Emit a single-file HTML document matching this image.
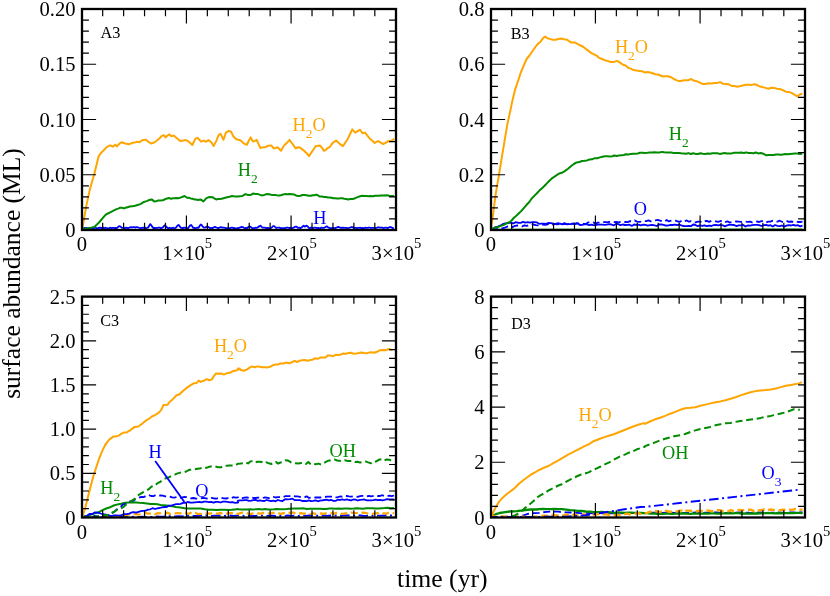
<!DOCTYPE html>
<html><head><meta charset="utf-8"><title>surface abundance</title>
<style>html,body{margin:0;padding:0;background:#fff}svg{display:block;will-change:transform}</style></head>
<body>
<svg width="830" height="596" viewBox="0 0 830 596" font-family="'Liberation Serif', serif" fill="#000">
<rect width="830" height="596" fill="#fff"/>
<clipPath id="ca"><rect x="82.00" y="9.00" width="314.00" height="221.00"/></clipPath>
<clipPath id="cb"><rect x="491.00" y="9.00" width="314.00" height="221.00"/></clipPath>
<clipPath id="cc"><rect x="82.00" y="296.60" width="314.00" height="220.90"/></clipPath>
<clipPath id="cd"><rect x="491.00" y="296.60" width="314.00" height="220.90"/></clipPath>
<g clip-path="url(#ca)">
<path d="M82.0 228.1 L83.0 228.2 L84.1 227.8 L85.1 228.3 L86.2 227.9 L87.2 228.1 L88.3 228.3 L89.3 227.9 L90.4 228.3 L91.4 228.0 L92.5 228.3 L93.5 228.3 L94.6 228.0 L95.6 227.7 L96.7 228.3 L97.7 228.2 L98.8 227.8 L99.8 227.6 L100.9 227.9 L101.9 228.0 L103.0 227.6 L104.0 228.3 L105.1 227.7 L106.1 228.1 L107.2 228.2 L108.2 228.3 L109.3 228.1 L110.3 227.7 L111.4 228.2 L112.4 227.9 L113.5 227.8 L114.5 228.1 L115.6 227.9 L116.6 228.3 L117.7 227.3 L118.7 226.4 L119.8 226.1 L120.8 226.9 L121.9 227.8 L122.9 227.9 L124.0 228.0 L125.0 228.1 L126.1 227.7 L127.1 227.8 L128.2 228.2 L129.2 227.7 L130.3 227.3 L131.3 227.1 L132.4 227.5 L133.4 227.1 L134.5 227.1 L135.5 227.6 L136.6 227.2 L137.6 227.2 L138.7 227.7 L139.8 228.0 L140.8 228.3 L141.9 227.8 L142.9 227.7 L144.0 227.9 L145.0 227.6 L146.1 228.1 L147.1 227.8 L148.2 227.4 L149.2 225.8 L150.3 224.1 L151.3 225.3 L152.4 227.0 L153.4 228.0 L154.5 227.8 L155.5 228.3 L156.6 227.8 L157.6 227.8 L158.7 227.6 L159.7 227.7 L160.8 228.1 L161.8 228.0 L162.9 227.3 L163.9 226.1 L165.0 225.3 L166.0 226.4 L167.1 227.6 L168.1 228.3 L169.2 227.7 L170.2 228.2 L171.3 228.2 L172.3 228.0 L173.4 227.7 L174.4 228.3 L175.5 228.0 L176.5 226.9 L177.6 225.5 L178.6 224.9 L179.7 226.3 L180.7 227.7 L181.8 228.0 L182.8 228.1 L183.9 227.6 L184.9 227.6 L186.0 228.2 L187.0 228.2 L188.1 228.2 L189.1 226.8 L190.2 225.4 L191.2 225.0 L192.3 226.5 L193.3 227.9 L194.4 228.0 L195.4 228.1 L196.5 227.9 L197.5 227.6 L198.6 227.8 L199.6 226.1 L200.7 224.5 L201.7 225.0 L202.8 226.7 L203.8 227.6 L204.9 227.7 L205.9 227.1 L207.0 226.5 L208.0 226.8 L209.1 227.5 L210.1 228.3 L211.2 227.8 L212.2 228.3 L213.3 227.6 L214.3 227.2 L215.4 227.0 L216.4 227.5 L217.5 227.9 L218.5 228.0 L219.6 227.6 L220.6 227.2 L221.7 227.3 L222.7 227.7 L223.8 227.7 L224.8 227.9 L225.9 228.2 L226.9 228.1 L228.0 228.1 L229.0 228.1 L230.1 228.3 L231.1 227.7 L232.2 227.6 L233.2 228.0 L234.3 228.0 L235.3 228.3 L236.4 228.3 L237.4 228.1 L238.5 228.1 L239.5 227.7 L240.6 227.3 L241.6 226.8 L242.7 227.1 L243.7 227.7 L244.8 228.2 L245.8 227.9 L246.9 228.3 L247.9 227.3 L249.0 226.7 L250.0 226.6 L251.1 227.3 L252.1 228.1 L253.2 228.1 L254.2 228.2 L255.3 227.7 L256.3 227.9 L257.4 227.7 L258.4 227.1 L259.5 226.0 L260.5 225.7 L261.6 226.8 L262.6 227.7 L263.7 227.7 L264.7 227.7 L265.8 227.8 L266.8 228.2 L267.9 227.9 L268.9 228.1 L270.0 228.3 L271.0 228.0 L272.1 227.1 L273.1 226.1 L274.2 226.2 L275.2 227.1 L276.3 228.0 L277.3 227.6 L278.4 227.6 L279.4 227.6 L280.5 228.1 L281.5 228.2 L282.6 228.2 L283.6 228.2 L284.7 228.2 L285.7 227.9 L286.8 227.6 L287.8 227.7 L288.9 228.0 L289.9 227.8 L291.0 227.7 L292.0 228.3 L293.1 227.8 L294.1 227.4 L295.2 226.7 L296.2 226.6 L297.3 227.2 L298.3 227.9 L299.4 227.7 L300.4 228.1 L301.5 227.5 L302.5 226.6 L303.6 225.7 L304.6 226.7 L305.7 226.1 L306.7 225.6 L307.8 226.7 L308.8 227.8 L309.9 228.2 L310.9 227.6 L312.0 227.7 L313.0 228.2 L314.1 227.7 L315.1 227.6 L316.2 227.8 L317.2 228.1 L318.3 227.9 L319.3 228.2 L320.4 228.3 L321.4 227.6 L322.5 227.8 L323.5 227.9 L324.6 227.6 L325.6 227.0 L326.7 226.3 L327.7 227.0 L328.8 227.7 L329.8 228.1 L330.9 228.1 L331.9 228.2 L333.0 227.9 L334.0 228.1 L335.1 228.0 L336.1 227.8 L337.2 227.3 L338.2 226.9 L339.3 227.3 L340.3 227.8 L341.4 227.6 L342.4 228.0 L343.5 227.6 L344.5 227.9 L345.6 227.9 L346.6 227.9 L347.7 228.3 L348.7 228.0 L349.8 227.7 L350.8 227.3 L351.9 227.0 L352.9 227.4 L354.0 227.9 L355.0 227.8 L356.1 227.9 L357.1 228.1 L358.2 227.9 L359.2 227.9 L360.3 227.7 L361.3 228.3 L362.4 227.9 L363.4 228.2 L364.5 228.1 L365.5 227.7 L366.6 227.9 L367.6 227.9 L368.7 227.7 L369.7 227.6 L370.8 228.0 L371.8 227.9 L372.9 227.9 L373.9 227.9 L375.0 227.8 L376.0 228.0 L377.1 227.7 L378.1 227.3 L379.2 227.3 L380.2 227.6 L381.3 227.6 L382.3 227.6 L383.4 228.1 L384.4 227.9 L385.5 227.6 L386.5 227.7 L387.6 228.2 L388.6 227.6 L389.7 227.1 L390.7 227.1 L391.8 227.6 L392.8 228.3 L393.9 227.8" fill="none" stroke="#0000ff" stroke-width="1.80" stroke-linejoin="round"/>
<path d="M82.4 229.1 L84.3 228.8 L86.1 228.6 L87.9 228.6 L89.7 228.1 L92.2 227.4 L94.6 226.7 L96.4 225.0 L98.2 223.3 L100.7 220.5 L103.1 217.7 L104.9 215.6 L106.7 214.0 L109.2 212.8 L111.6 211.6 L114.0 210.4 L116.5 209.1 L118.3 208.6 L120.1 207.7 L121.9 207.8 L123.8 208.4 L125.6 207.7 L127.4 207.2 L129.8 206.5 L132.3 206.2 L134.1 206.1 L135.9 205.5 L138.4 204.8 L140.8 203.8 L143.2 202.3 L145.7 201.4 L147.5 200.9 L149.3 199.9 L151.7 199.4 L154.2 201.4 L156.0 201.3 L157.8 200.6 L160.2 200.5 L162.7 200.2 L164.5 199.5 L166.3 198.7 L168.8 198.0 L171.2 198.7 L173.0 198.2 L174.8 198.2 L176.7 197.9 L178.5 198.2 L180.3 197.6 L182.1 197.0 L184.6 196.0 L187.0 197.7 L188.8 197.8 L190.6 198.4 L192.5 198.8 L194.3 199.4 L196.1 199.5 L197.9 199.9 L200.4 199.4 L203.5 201.4 L206.4 198.2 L208.3 197.3 L210.1 197.0 L212.5 197.2 L214.3 198.3 L216.2 199.4 L218.0 199.1 L219.8 198.9 L221.6 198.8 L223.5 198.2 L225.3 197.7 L227.1 197.2 L229.5 196.7 L232.0 196.0 L233.8 196.3 L235.6 196.5 L236.0 196.6 L238.0 196.5 L240.1 196.2 L242.1 196.1 L243.9 195.0 L245.7 194.1 L247.6 194.9 L249.4 195.1 L251.2 194.7 L253.0 193.6 L255.5 194.1 L257.9 194.1 L260.3 194.9 L262.8 195.4 L265.2 194.6 L267.6 194.1 L270.1 194.5 L272.5 195.1 L274.3 195.1 L276.1 195.1 L278.0 195.6 L279.8 195.6 L282.2 194.8 L284.7 194.1 L287.1 194.3 L289.5 194.1 L292.0 194.3 L294.4 194.6 L296.8 195.8 L298.7 195.9 L300.5 195.7 L302.3 195.0 L304.1 195.1 L306.6 195.3 L309.0 195.8 L310.8 195.8 L312.6 195.2 L314.5 195.2 L316.3 194.6 L318.1 195.5 L319.9 196.6 L322.0 196.5 L324.0 197.0 L326.0 197.1 L327.8 197.5 L329.7 197.5 L331.5 197.7 L333.3 198.3 L335.1 198.2 L337.0 198.6 L338.8 198.4 L340.6 198.3 L342.4 198.3 L344.3 198.7 L346.1 198.9 L347.9 199.5 L350.4 199.0 L352.8 199.0 L355.2 198.2 L357.7 197.1 L360.1 196.3 L362.5 195.8 L364.5 196.0 L366.6 196.1 L368.6 196.3 L370.7 196.0 L372.9 196.2 L375.0 195.7 L377.1 195.8 L378.9 195.8 L380.8 195.4 L382.6 195.4 L384.4 195.4 L386.4 195.3 L388.3 195.5 L390.3 196.1 L392.2 196.1 L394.2 196.1" fill="none" stroke="#008b00" stroke-width="2.00" stroke-linejoin="round"/>
<path d="M82.0 230.0 L83.5 222.0 L86.2 206.4 L89.6 190.6 L91.8 182.6 L94.1 174.7 L96.3 165.8 L98.6 156.6 L100.7 153.2 L102.5 151.5 L104.3 149.6 L106.7 147.1 L108.6 146.0 L110.4 145.4 L112.8 146.7 L115.3 144.7 L117.0 146.4 L119.1 144.0 L121.3 142.3 L123.2 142.8 L125.0 143.5 L126.8 143.7 L128.6 144.2 L130.5 143.7 L132.3 142.8 L134.7 142.4 L137.1 141.8 L139.6 142.3 L142.0 140.3 L143.8 140.1 L145.7 139.6 L148.1 141.6 L151.0 143.5 L154.2 142.5 L156.0 141.2 L157.8 139.8 L159.6 138.2 L161.5 136.2 L163.9 135.2 L165.6 137.4 L167.5 135.6 L169.5 134.3 L171.2 136.2 L173.6 135.5 L175.4 137.0 L177.3 138.6 L180.2 141.1 L183.3 140.6 L185.8 140.1 L187.6 140.9 L189.4 142.3 L192.3 145.0 L195.5 138.6 L197.9 138.1 L201.1 141.6 L204.0 140.6 L206.0 141.8 L208.4 140.1 L211.3 142.3 L213.7 145.9 L216.2 141.1 L218.6 135.0 L220.5 133.8 L223.5 139.8 L225.9 132.6 L228.8 130.9 L231.2 131.8 L233.2 136.2 L235.0 138.1 L236.8 139.4 L239.6 139.9 L241.5 141.1 L243.3 143.0 L245.1 144.1 L246.9 144.7 L248.8 140.8 L250.6 137.4 L253.0 141.6 L254.9 140.9 L256.7 139.9 L258.5 143.8 L260.3 147.9 L262.2 147.5 L264.0 147.2 L265.8 147.0 L267.6 145.9 L269.5 145.5 L271.3 145.5 L273.7 148.4 L275.5 148.1 L277.4 147.2 L279.2 149.0 L281.0 150.8 L282.8 147.5 L284.7 144.7 L287.1 142.7 L289.5 139.9 L291.4 142.7 L293.2 144.7 L295.6 148.4 L297.4 147.5 L299.3 147.2 L301.7 148.9 L304.1 150.8 L306.6 153.2 L309.0 156.2 L310.8 153.4 L312.6 150.8 L315.8 146.0 L317.9 145.8 L319.9 145.5 L322.0 147.9 L324.1 150.8 L325.9 149.8 L327.8 148.0 L329.7 147.2 L331.5 144.5 L333.3 142.3 L336.2 140.6 L339.4 143.5 L341.2 145.0 L343.1 146.0 L345.5 142.2 L347.9 138.7 L350.1 134.0 L352.3 129.4 L355.2 132.6 L357.7 131.2 L360.1 129.7 L362.5 133.3 L365.0 132.6 L367.4 135.6 L369.8 138.7 L372.3 140.8 L374.7 143.0 L376.5 141.7 L378.3 141.1 L380.8 142.7 L383.2 144.0 L385.6 142.9 L388.1 141.1 L389.9 141.2 L391.7 140.6 L394.2 138.7" fill="none" stroke="#ffa500" stroke-width="2.00" stroke-linejoin="round"/>
</g>
<g stroke="#000" stroke-width="1.20" fill="none"><path d="M102.68 9.00 v7.20 M102.68 230.00 v-7.20"/><path d="M123.62 9.00 v7.20 M123.62 230.00 v-7.20"/><path d="M144.55 9.00 v7.20 M144.55 230.00 v-7.20"/><path d="M165.48 9.00 v7.20 M165.48 230.00 v-7.20"/><path d="M186.42 9.00 v14.40 M186.42 230.00 v-14.40"/><path d="M207.35 9.00 v7.20 M207.35 230.00 v-7.20"/><path d="M228.28 9.00 v7.20 M228.28 230.00 v-7.20"/><path d="M249.22 9.00 v7.20 M249.22 230.00 v-7.20"/><path d="M270.15 9.00 v7.20 M270.15 230.00 v-7.20"/><path d="M291.08 9.00 v14.40 M291.08 230.00 v-14.40"/><path d="M312.02 9.00 v7.20 M312.02 230.00 v-7.20"/><path d="M332.95 9.00 v7.20 M332.95 230.00 v-7.20"/><path d="M353.88 9.00 v7.20 M353.88 230.00 v-7.20"/><path d="M374.82 9.00 v7.20 M374.82 230.00 v-7.20"/><path d="M82.00 20.05 h6.90 M396.00 20.05 h-6.90"/><path d="M82.00 31.10 h6.90 M396.00 31.10 h-6.90"/><path d="M82.00 42.15 h6.90 M396.00 42.15 h-6.90"/><path d="M82.00 53.20 h6.90 M396.00 53.20 h-6.90"/><path d="M82.00 64.25 h14.10 M396.00 64.25 h-14.10"/><path d="M82.00 75.30 h6.90 M396.00 75.30 h-6.90"/><path d="M82.00 86.35 h6.90 M396.00 86.35 h-6.90"/><path d="M82.00 97.40 h6.90 M396.00 97.40 h-6.90"/><path d="M82.00 108.45 h6.90 M396.00 108.45 h-6.90"/><path d="M82.00 119.50 h14.10 M396.00 119.50 h-14.10"/><path d="M82.00 130.55 h6.90 M396.00 130.55 h-6.90"/><path d="M82.00 141.60 h6.90 M396.00 141.60 h-6.90"/><path d="M82.00 152.65 h6.90 M396.00 152.65 h-6.90"/><path d="M82.00 163.70 h6.90 M396.00 163.70 h-6.90"/><path d="M82.00 174.75 h14.10 M396.00 174.75 h-14.10"/><path d="M82.00 185.80 h6.90 M396.00 185.80 h-6.90"/><path d="M82.00 196.85 h6.90 M396.00 196.85 h-6.90"/><path d="M82.00 207.90 h6.90 M396.00 207.90 h-6.90"/><path d="M82.00 218.95 h6.90 M396.00 218.95 h-6.90"/></g>
<rect x="82.00" y="9.00" width="314.00" height="221.00" fill="none" stroke="#000" stroke-width="2.30"/>
<text x="75.50" y="237.10" text-anchor="end" font-size="20.6">0</text>
<text x="75.50" y="181.85" text-anchor="end" font-size="20.6">0.05</text>
<text x="75.50" y="126.60" text-anchor="end" font-size="20.6">0.10</text>
<text x="75.50" y="71.35" text-anchor="end" font-size="20.6">0.15</text>
<text x="75.50" y="16.10" text-anchor="end" font-size="20.6">0.20</text>
<text x="82.00" y="251.20" text-anchor="middle" font-size="20.6">0</text>
<text x="187.17" y="259.50" text-anchor="middle" font-size="20.6">1×10<tspan font-size="14.6" dy="-11.1">5</tspan></text>
<text x="291.83" y="259.50" text-anchor="middle" font-size="20.6">2×10<tspan font-size="14.6" dy="-11.1">5</tspan></text>
<text x="396.50" y="259.50" text-anchor="middle" font-size="20.6">3×10<tspan font-size="14.6" dy="-11.1">5</tspan></text>
<text x="100.4" y="37.6" font-size="16.3">A3</text>
<text x="292.60" y="130.70" fill="#ffa500" font-size="18.3">H<tspan font-size="13.5" dy="7.4">2</tspan><tspan dy="-7.4">O</tspan></text>
<text x="237.80" y="175.50" fill="#008b00" font-size="18.3">H<tspan font-size="13.5" dy="7.4">2</tspan></text>
<text x="313.30" y="223.70" fill="#0000ff" font-size="18.3">H</text>
<g clip-path="url(#cb)">
<path d="M491.0 229.5 L802.5 229.2" fill="none" stroke="#008b00" stroke-width="1.60" stroke-linejoin="round"/>
<path d="M491.0 230.0 L493.3 229.1 L495.7 229.3 L498.0 228.6 L500.3 228.6 L502.7 228.2 L505.0 227.6 L507.5 226.5 L510.0 226.1 L512.5 227.2 L515.0 225.8 L517.5 225.5 L520.0 225.6 L522.2 226.4 L524.4 225.3 L526.7 225.9 L528.9 225.1 L531.1 225.3 L533.3 224.3 L535.6 225.1 L537.8 225.4 L540.0 224.6 L542.3 224.6 L544.6 224.9 L546.9 224.7 L549.2 223.5 L551.5 224.7 L553.8 224.3 L556.2 223.7 L558.5 223.1 L560.8 224.6 L563.1 223.8 L565.4 224.1 L567.7 224.4 L570.0 223.6 L572.3 223.9 L574.6 224.2 L576.9 223.2 L579.2 223.8 L581.5 223.1 L583.8 223.9 L586.2 223.7 L588.5 222.3 L590.8 222.3 L593.1 222.3 L595.4 223.6 L597.7 222.6 L600.0 222.6 L602.3 222.7 L604.6 222.0 L606.9 222.3 L609.2 221.9 L611.5 221.8 L613.8 222.1 L616.2 221.9 L618.5 222.4 L620.8 221.9 L623.1 222.2 L625.4 222.0 L627.7 222.1 L630.0 221.1 L632.3 221.4 L634.6 220.4 L636.9 221.6 L639.2 221.8 L641.5 221.6 L643.8 221.0 L646.2 221.2 L648.5 220.3 L650.8 221.4 L653.1 220.8 L655.4 220.3 L657.7 219.9 L660.0 220.6 L662.2 221.3 L664.4 221.6 L666.7 220.0 L668.9 221.4 L671.1 220.7 L673.3 220.3 L675.6 220.6 L677.8 221.5 L680.0 221.8 L682.2 220.3 L684.4 221.4 L686.7 220.4 L688.9 221.7 L691.1 221.1 L693.3 222.1 L695.6 222.4 L697.8 221.6 L700.0 221.6 L702.3 222.5 L704.5 221.3 L706.8 220.8 L709.1 221.8 L711.4 220.8 L713.6 221.1 L715.9 221.4 L718.2 221.8 L720.5 221.0 L722.7 220.8 L725.0 222.3 L727.3 221.3 L729.5 222.4 L731.8 222.3 L734.1 221.4 L736.4 221.5 L738.6 221.6 L740.9 221.9 L743.2 221.8 L745.5 221.7 L747.7 221.8 L750.0 221.6 L752.3 222.4 L754.6 221.6 L756.8 221.5 L759.1 222.0 L761.4 221.1 L763.7 221.2 L766.0 222.5 L768.3 221.6 L770.5 221.7 L772.8 220.7 L775.1 221.4 L777.4 221.7 L779.7 220.7 L782.0 221.8 L784.2 221.8 L786.5 220.8 L788.8 221.8 L791.1 221.5 L793.4 221.9 L795.7 221.3 L797.9 222.0 L800.2 222.0 L802.5 221.6" fill="none" stroke="#0000ff" stroke-width="1.80" stroke-linejoin="round" stroke-dasharray="7 3.7"/>
<path d="M491.0 230.0 L493.2 228.4 L495.5 227.1 L497.8 226.6 L500.0 225.7 L502.7 224.2 L505.3 223.3 L508.0 223.2 L510.7 222.7 L513.3 223.3 L516.0 222.2 L518.3 222.8 L520.7 222.8 L523.0 221.9 L525.3 222.6 L527.7 222.2 L530.0 222.7 L532.3 222.2 L534.6 222.1 L536.9 222.4 L539.2 223.8 L541.5 223.7 L543.8 223.7 L546.2 223.8 L548.5 222.8 L550.8 223.1 L553.1 223.7 L555.4 224.0 L557.7 224.3 L560.0 223.7 L562.2 224.4 L564.4 223.1 L566.7 224.1 L568.9 224.2 L571.1 224.0 L573.3 223.5 L575.6 224.0 L577.8 223.4 L580.0 225.0 L582.2 224.9 L584.4 224.4 L586.7 224.0 L588.9 225.2 L591.1 224.6 L593.3 225.2 L595.6 225.2 L597.8 224.7 L600.0 224.7 L602.3 224.6 L604.5 224.9 L606.8 224.6 L609.1 224.2 L611.4 224.5 L613.6 225.4 L615.9 224.0 L618.2 224.1 L620.5 225.1 L622.7 224.5 L625.0 225.0 L627.3 224.9 L629.5 224.7 L631.8 225.9 L634.1 224.5 L636.4 224.9 L638.6 224.6 L640.9 225.3 L643.2 224.7 L645.5 224.9 L647.7 225.6 L650.0 225.2 L652.3 224.9 L654.5 225.3 L656.8 226.0 L659.1 224.5 L661.4 224.5 L663.6 224.8 L665.9 225.7 L668.2 225.5 L670.5 224.8 L672.7 225.0 L675.0 224.7 L677.3 225.2 L679.5 224.5 L681.8 225.7 L684.1 226.0 L686.4 226.2 L688.6 225.8 L690.9 226.2 L693.2 224.5 L695.5 225.0 L697.7 226.2 L700.0 225.4 L702.3 225.9 L704.5 225.3 L706.8 226.2 L709.1 225.7 L711.4 226.0 L713.6 225.1 L715.9 224.9 L718.2 225.4 L720.5 224.9 L722.7 225.3 L725.0 226.4 L727.3 225.3 L729.5 224.7 L731.8 224.8 L734.1 225.0 L736.4 226.1 L738.6 225.4 L740.9 225.3 L743.2 224.9 L745.5 226.5 L747.7 225.5 L750.0 225.7 L752.3 225.2 L754.6 224.9 L756.8 224.9 L759.1 225.1 L761.4 226.0 L763.7 225.1 L766.0 224.9 L768.3 225.7 L770.5 225.2 L772.8 226.6 L775.1 225.0 L777.4 225.8 L779.7 226.2 L782.0 225.5 L784.2 226.6 L786.5 225.7 L788.8 225.2 L791.1 225.5 L793.4 224.9 L795.7 225.6 L797.9 225.2 L800.2 226.4 L802.5 225.7" fill="none" stroke="#0000ff" stroke-width="1.80" stroke-linejoin="round"/>
<path d="M491.1 228.7 L493.7 228.1 L496.3 227.4 L498.9 226.7 L501.5 225.6 L503.9 224.9 L506.3 223.5 L508.7 222.5 L511.1 221.0 L513.7 218.0 L516.3 215.8 L518.9 213.3 L521.4 210.9 L524.0 207.8 L526.6 204.8 L529.1 202.2 L531.7 198.5 L534.3 195.9 L536.9 193.3 L539.4 190.6 L542.0 188.2 L544.6 185.7 L547.1 183.1 L549.7 180.5 L552.3 178.1 L554.9 176.4 L557.4 174.7 L560.0 173.2 L562.6 172.5 L565.1 170.9 L568.0 168.8 L570.9 166.2 L573.8 164.0 L576.7 162.4 L579.3 162.1 L581.9 161.0 L584.4 160.8 L587.0 160.4 L589.6 159.5 L592.1 159.3 L594.7 158.2 L597.3 158.3 L599.9 157.4 L602.4 156.7 L605.0 156.3 L607.6 156.2 L609.9 156.5 L612.2 156.2 L614.5 155.5 L616.8 156.0 L619.1 155.4 L621.5 155.2 L623.8 155.0 L626.1 154.2 L628.4 154.6 L630.7 153.9 L633.0 153.8 L635.3 153.8 L637.7 153.5 L640.0 152.8 L642.3 152.7 L645.0 153.0 L647.4 152.8 L649.8 152.5 L652.2 152.4 L654.6 152.3 L657.0 152.4 L659.5 152.5 L661.9 151.9 L664.3 152.3 L666.7 152.6 L669.1 152.4 L671.5 152.5 L673.9 153.1 L676.3 153.0 L678.7 153.0 L681.1 153.3 L683.6 153.4 L686.0 153.7 L688.4 153.1 L690.8 154.0 L693.2 153.2 L695.6 153.9 L698.0 154.0 L700.4 153.3 L702.8 153.8 L705.2 154.0 L707.6 153.6 L710.1 153.7 L712.5 153.2 L714.9 153.2 L717.3 153.2 L719.7 153.9 L722.1 153.4 L724.5 153.0 L726.9 153.5 L729.3 153.5 L731.7 153.4 L734.1 152.8 L736.6 152.7 L739.0 152.8 L741.4 152.6 L743.8 152.9 L746.2 152.4 L748.6 153.0 L751.0 153.1 L753.4 153.2 L755.8 152.5 L758.2 153.4 L760.7 153.0 L763.5 153.8 L766.4 155.3 L768.8 155.0 L771.3 155.1 L773.7 155.1 L776.1 154.6 L778.4 154.4 L780.7 154.8 L783.0 154.4 L785.3 154.1 L787.6 154.2 L790.1 154.0 L792.5 153.8 L795.0 153.6 L797.4 153.6 L799.8 154.0 L802.3 153.8" fill="none" stroke="#008b00" stroke-width="2.00" stroke-linejoin="round"/>
<path d="M491.1 228.7 L493.4 211.8 L495.7 194.0 L498.6 177.1 L501.5 159.3 L504.4 141.9 L507.3 124.6 L509.9 112.6 L512.4 100.7 L515.0 89.9 L517.9 81.4 L520.8 72.5 L523.7 65.7 L526.6 59.0 L529.5 55.5 L532.4 51.3 L535.2 47.2 L538.1 43.6 L540.5 41.7 L542.8 38.6 L545.1 36.6 L547.4 38.2 L549.7 38.9 L552.6 39.7 L555.5 39.7 L558.4 39.0 L561.3 38.6 L564.2 39.2 L567.1 39.7 L570.9 42.4 L574.8 42.4 L577.7 44.2 L580.6 45.5 L583.5 47.0 L586.4 49.4 L588.9 51.1 L591.5 53.2 L594.1 54.4 L596.6 55.6 L599.2 57.9 L601.8 59.0 L604.7 60.2 L607.6 60.9 L610.5 62.0 L613.4 62.1 L617.2 60.9 L620.1 62.6 L623.0 64.8 L625.6 65.5 L628.1 67.8 L630.7 68.6 L633.6 70.1 L636.5 70.6 L639.4 70.9 L642.3 71.3 L645.0 72.5 L647.6 72.1 L650.1 72.5 L652.7 73.2 L655.3 74.2 L657.9 74.5 L660.4 75.5 L663.0 76.5 L665.6 76.2 L668.1 76.3 L671.0 77.2 L673.9 79.0 L676.8 80.4 L679.7 81.3 L682.6 80.5 L685.5 80.2 L688.4 80.2 L691.3 79.0 L694.2 80.8 L697.0 81.3 L699.9 82.7 L702.8 84.0 L705.7 83.9 L708.6 83.3 L711.5 83.4 L714.4 82.9 L717.3 82.9 L720.2 82.1 L723.1 83.8 L726.0 84.0 L728.8 84.3 L731.7 86.0 L734.6 86.1 L737.5 86.7 L740.4 86.1 L743.3 85.2 L746.2 84.7 L749.1 84.8 L751.7 84.9 L754.2 84.2 L756.8 84.8 L759.7 86.5 L762.6 87.1 L765.5 87.9 L768.4 88.7 L771.3 87.7 L774.1 87.9 L777.0 88.7 L779.9 89.0 L782.8 90.1 L785.7 91.7 L788.6 91.9 L791.5 92.9 L794.4 94.6 L797.3 96.4 L799.8 94.5 L802.3 93.7" fill="none" stroke="#ffa500" stroke-width="2.00" stroke-linejoin="round"/>
</g>
<g stroke="#000" stroke-width="1.20" fill="none"><path d="M511.68 9.00 v7.20 M511.68 230.00 v-7.20"/><path d="M532.62 9.00 v7.20 M532.62 230.00 v-7.20"/><path d="M553.55 9.00 v7.20 M553.55 230.00 v-7.20"/><path d="M574.48 9.00 v7.20 M574.48 230.00 v-7.20"/><path d="M595.42 9.00 v14.40 M595.42 230.00 v-14.40"/><path d="M616.35 9.00 v7.20 M616.35 230.00 v-7.20"/><path d="M637.28 9.00 v7.20 M637.28 230.00 v-7.20"/><path d="M658.22 9.00 v7.20 M658.22 230.00 v-7.20"/><path d="M679.15 9.00 v7.20 M679.15 230.00 v-7.20"/><path d="M700.08 9.00 v14.40 M700.08 230.00 v-14.40"/><path d="M721.02 9.00 v7.20 M721.02 230.00 v-7.20"/><path d="M741.95 9.00 v7.20 M741.95 230.00 v-7.20"/><path d="M762.88 9.00 v7.20 M762.88 230.00 v-7.20"/><path d="M783.82 9.00 v7.20 M783.82 230.00 v-7.20"/><path d="M491.00 20.05 h6.90 M805.00 20.05 h-6.90"/><path d="M491.00 31.10 h6.90 M805.00 31.10 h-6.90"/><path d="M491.00 42.15 h6.90 M805.00 42.15 h-6.90"/><path d="M491.00 53.20 h6.90 M805.00 53.20 h-6.90"/><path d="M491.00 64.25 h14.10 M805.00 64.25 h-14.10"/><path d="M491.00 75.30 h6.90 M805.00 75.30 h-6.90"/><path d="M491.00 86.35 h6.90 M805.00 86.35 h-6.90"/><path d="M491.00 97.40 h6.90 M805.00 97.40 h-6.90"/><path d="M491.00 108.45 h6.90 M805.00 108.45 h-6.90"/><path d="M491.00 119.50 h14.10 M805.00 119.50 h-14.10"/><path d="M491.00 130.55 h6.90 M805.00 130.55 h-6.90"/><path d="M491.00 141.60 h6.90 M805.00 141.60 h-6.90"/><path d="M491.00 152.65 h6.90 M805.00 152.65 h-6.90"/><path d="M491.00 163.70 h6.90 M805.00 163.70 h-6.90"/><path d="M491.00 174.75 h14.10 M805.00 174.75 h-14.10"/><path d="M491.00 185.80 h6.90 M805.00 185.80 h-6.90"/><path d="M491.00 196.85 h6.90 M805.00 196.85 h-6.90"/><path d="M491.00 207.90 h6.90 M805.00 207.90 h-6.90"/><path d="M491.00 218.95 h6.90 M805.00 218.95 h-6.90"/></g>
<rect x="491.00" y="9.00" width="314.00" height="221.00" fill="none" stroke="#000" stroke-width="2.30"/>
<text x="484.50" y="237.10" text-anchor="end" font-size="20.6">0</text>
<text x="484.50" y="181.85" text-anchor="end" font-size="20.6">0.2</text>
<text x="484.50" y="126.60" text-anchor="end" font-size="20.6">0.4</text>
<text x="484.50" y="71.35" text-anchor="end" font-size="20.6">0.6</text>
<text x="484.50" y="16.10" text-anchor="end" font-size="20.6">0.8</text>
<text x="491.00" y="251.20" text-anchor="middle" font-size="20.6">0</text>
<text x="596.17" y="259.50" text-anchor="middle" font-size="20.6">1×10<tspan font-size="14.6" dy="-11.1">5</tspan></text>
<text x="700.83" y="259.50" text-anchor="middle" font-size="20.6">2×10<tspan font-size="14.6" dy="-11.1">5</tspan></text>
<text x="805.50" y="259.50" text-anchor="middle" font-size="20.6">3×10<tspan font-size="14.6" dy="-11.1">5</tspan></text>
<text x="510.7" y="39.0" font-size="16.2">B3</text>
<text x="614.90" y="53.00" fill="#ffa500" font-size="18.3">H<tspan font-size="13.5" dy="7.4">2</tspan><tspan dy="-7.4">O</tspan></text>
<text x="668.80" y="139.75" fill="#008b00" font-size="18.3">H<tspan font-size="13.5" dy="7.4">2</tspan></text>
<text x="633.70" y="214.50" fill="#0000ff" font-size="18.3">O</text>
<g clip-path="url(#cc)">
<path d="M82.0 517.2 L85.0 517.4 L88.0 517.3 L91.0 517.3 L94.0 517.4 L97.0 517.0 L100.0 517.2 L103.0 517.3 L106.0 517.3 L109.0 517.1 L112.0 516.8 L115.0 516.9 L118.0 517.3 L121.0 516.7 L124.0 516.8 L127.0 517.2 L130.0 516.9 L133.0 516.7 L136.0 516.7 L139.0 517.1 L142.0 516.7 L145.0 516.8 L148.0 516.9 L151.0 516.9 L154.0 516.7 L157.0 516.5 L160.0 516.7 L163.1 516.7 L166.2 516.3 L169.2 516.2 L172.3 516.2 L175.4 516.4 L178.5 516.1 L181.5 516.3 L184.6 515.9 L187.7 515.8 L190.8 515.6 L193.8 516.0 L196.9 516.0 L200.0 515.7 L203.0 515.5 L206.1 515.5 L209.1 515.4 L212.1 515.8 L215.2 515.6 L218.2 515.5 L221.2 515.8 L224.2 515.8 L227.3 515.7 L230.3 515.5 L233.3 515.8 L236.4 515.7 L239.4 515.7 L242.4 515.5 L245.5 516.0 L248.5 515.9 L251.5 515.8 L254.6 516.0 L257.6 515.7 L260.6 515.6 L263.7 515.5 L266.7 515.8 L269.7 515.7 L272.8 515.7 L275.8 516.0 L278.8 515.9 L281.8 515.5 L284.9 515.9 L287.9 515.4 L290.9 515.8 L294.0 515.6 L297.0 515.8 L300.0 516.0 L303.1 515.7 L306.1 515.9 L309.1 515.4 L312.2 515.8 L315.2 515.5 L318.2 515.7 L321.2 515.6 L324.3 515.4 L327.3 515.8 L330.3 515.5 L333.4 515.6 L336.4 515.5 L339.4 515.8 L342.5 515.6 L345.5 515.4 L348.5 515.4 L351.6 515.5 L354.6 515.7 L357.6 515.4 L360.7 515.4 L363.7 515.8 L366.7 515.7 L369.8 515.5 L372.8 515.6 L375.8 515.5 L378.8 515.6 L381.9 515.6 L384.9 515.5 L387.9 515.5 L391.0 515.5 L394.0 515.7" fill="none" stroke="#0000ff" stroke-width="1.80" stroke-linejoin="round" stroke-dasharray="9.5 3.5 2 3.5"/>
<path d="M82.0 517.2 L84.5 516.6 L87.1 517.4 L89.6 517.3 L92.1 517.0 L94.7 516.5 L97.2 517.4 L99.7 517.4 L102.3 516.8 L104.8 516.8 L107.3 516.3 L109.9 515.9 L112.4 516.4 L114.9 516.7 L117.5 515.9 L120.0 516.5 L122.5 516.6 L125.0 515.2 L127.5 514.8 L130.0 514.1 L132.5 515.2 L135.0 514.0 L137.5 514.3 L140.0 514.5 L142.5 514.0 L145.0 513.0 L147.5 513.4 L150.0 513.6 L152.5 512.9 L155.0 514.2 L157.5 513.2 L160.0 513.3 L162.5 512.7 L165.0 513.8 L167.5 512.7 L170.1 514.0 L172.6 513.2 L175.1 513.4 L177.6 513.0 L180.1 513.3 L182.6 512.8 L185.2 512.6 L187.7 513.9 L190.2 512.9 L192.7 513.7 L195.2 512.8 L197.7 514.1 L200.3 513.9 L202.8 513.7 L205.3 513.7 L207.8 513.4 L210.3 513.7 L212.8 512.7 L215.4 513.3 L217.9 513.8 L220.4 512.8 L222.9 514.0 L225.4 513.9 L227.9 513.2 L230.5 513.1 L233.0 513.2 L235.5 513.1 L238.0 514.1 L240.5 513.1 L243.0 512.5 L245.5 512.6 L248.1 513.6 L250.6 514.1 L253.1 513.3 L255.6 513.3 L258.1 513.4 L260.6 513.7 L263.2 512.9 L265.7 513.5 L268.2 513.4 L270.7 513.5 L273.2 512.8 L275.7 512.8 L278.3 513.1 L280.8 514.0 L283.3 513.1 L285.8 513.5 L288.3 513.0 L290.8 512.7 L293.4 512.6 L295.9 513.8 L298.4 513.7 L300.9 513.1 L303.4 513.6 L305.9 513.6 L308.5 513.9 L311.0 514.0 L313.5 513.2 L316.0 514.1 L318.5 514.0 L321.0 513.4 L323.5 513.9 L326.1 513.3 L328.6 513.1 L331.1 512.9 L333.6 513.9 L336.1 512.8 L338.6 512.6 L341.2 513.8 L343.7 513.7 L346.2 513.3 L348.7 513.8 L351.2 512.6 L353.7 512.9 L356.3 513.0 L358.8 513.2 L361.3 512.8 L363.8 512.6 L366.3 513.0 L368.8 513.9 L371.4 514.1 L373.9 513.7 L376.4 513.3 L378.9 512.9 L381.4 514.0 L383.9 513.3 L386.5 513.7 L389.0 512.5 L391.5 512.8 L394.0 513.3" fill="none" stroke="#ffa500" stroke-width="2.20" stroke-linejoin="round" stroke-dasharray="7 3.7"/>
<path d="M82.3 517.2 L86.7 516.2 L91.1 514.5 L94.9 513.2 L98.6 512.3 L102.4 510.1 L106.2 508.5 L110.0 507.3 L113.7 505.5 L117.5 504.4 L121.3 503.7 L125.1 502.8 L128.8 502.5 L133.4 502.2 L136.4 502.5 L139.4 502.8 L143.2 503.0 L146.9 503.5 L150.7 504.0 L154.5 504.0 L157.5 504.2 L160.5 505.0 L163.5 505.2 L166.6 505.4 L169.6 505.9 L172.6 506.2 L175.6 507.0 L178.6 507.3 L181.7 507.7 L184.7 508.2 L187.7 508.4 L190.7 508.5 L196.0 508.5 L200.5 508.6 L204.9 509.3 L208.8 509.7 L212.7 509.7 L216.6 509.9 L220.5 509.8 L224.4 509.7 L228.4 509.9 L231.6 509.8 L234.9 509.4 L238.1 509.1 L238.0 509.3 L241.0 509.6 L244.0 509.5 L247.0 509.6 L250.0 509.3 L253.0 509.4 L256.0 509.3 L259.0 509.1 L262.0 509.5 L265.0 509.1 L268.0 509.4 L271.0 509.5 L274.0 509.3 L277.0 509.0 L280.0 509.2 L283.3 509.3 L286.7 509.1 L290.0 508.7 L293.3 508.5 L296.7 508.6 L300.0 508.5 L303.3 508.3 L306.7 508.9 L310.0 508.7 L313.3 508.7 L316.7 508.7 L320.0 508.8 L323.1 508.9 L326.2 509.0 L329.2 508.6 L332.3 508.6 L335.4 508.7 L338.5 508.5 L341.5 508.7 L344.6 508.6 L347.7 508.6 L350.8 508.7 L353.8 508.6 L356.9 508.3 L360.0 508.5 L363.1 508.8 L366.2 508.3 L369.3 508.3 L372.4 508.3 L375.5 508.5 L378.5 508.5 L381.6 508.2 L384.7 508.1 L387.8 507.8 L390.9 508.3 L394.0 508.0" fill="none" stroke="#008b00" stroke-width="2.00" stroke-linejoin="round"/>
<path d="M82.3 516.9 L84.8 516.5 L87.3 515.5 L89.8 513.8 L92.4 514.0 L95.0 512.3 L97.6 512.6 L100.5 513.5 L103.4 514.2 L106.0 514.7 L108.6 515.5 L111.2 516.1 L113.8 515.4 L116.4 515.4 L119.0 515.7 L121.6 515.1 L124.2 514.2 L126.8 514.2 L129.2 513.6 L131.5 512.5 L133.9 512.1 L136.2 512.6 L138.6 511.8 L140.9 511.2 L143.2 510.8 L145.6 510.7 L147.9 509.6 L150.3 509.3 L152.6 508.2 L155.0 509.0 L157.3 508.3 L159.6 508.0 L162.0 507.3 L164.3 507.0 L166.7 507.1 L169.0 505.6 L171.4 505.7 L173.7 504.8 L176.0 504.2 L178.4 504.1 L180.7 503.9 L183.1 502.9 L185.4 502.9 L187.7 502.0 L190.1 502.5 L192.4 502.7 L194.8 502.4 L197.1 502.1 L199.5 502.0 L201.8 502.3 L204.1 501.6 L206.5 501.6 L208.8 502.1 L211.2 501.9 L213.5 502.7 L215.9 501.8 L218.2 501.8 L220.5 502.5 L222.9 501.7 L225.2 501.6 L227.6 501.9 L229.9 502.3 L232.3 502.1 L235.2 502.8 L238.1 502.5 L238.0 500.6 L240.2 500.3 L242.4 500.4 L244.6 500.2 L246.8 500.2 L249.0 500.9 L251.2 500.6 L253.4 500.1 L255.6 499.8 L257.8 500.9 L260.0 500.4 L262.2 500.8 L264.4 501.0 L266.7 500.0 L268.9 500.6 L271.1 501.2 L273.3 500.7 L275.6 501.3 L277.8 500.0 L280.0 500.6 L282.5 501.0 L285.0 499.2 L287.5 499.4 L290.0 499.2 L292.5 498.7 L295.0 500.2 L297.5 500.2 L300.0 500.2 L302.2 501.0 L304.4 500.8 L306.7 501.1 L308.9 500.4 L311.1 501.2 L313.3 500.9 L315.6 500.3 L317.8 501.3 L320.0 500.6 L322.2 500.3 L324.4 500.0 L326.7 499.7 L328.9 500.3 L331.1 499.8 L333.3 500.9 L335.6 500.9 L337.8 499.6 L340.0 500.0 L342.2 499.3 L344.4 500.0 L346.7 499.4 L348.9 500.0 L351.1 500.4 L353.3 499.5 L355.6 499.7 L357.8 500.5 L360.0 499.8 L362.2 499.7 L364.4 499.5 L366.7 500.4 L368.9 500.3 L371.1 500.4 L373.3 500.1 L375.6 499.7 L377.8 500.1 L380.0 499.8 L382.3 500.3 L384.7 499.9 L387.0 499.2 L389.3 499.3 L391.7 499.4 L394.0 499.5" fill="none" stroke="#0000ff" stroke-width="1.80" stroke-linejoin="round"/>
<path d="M82.3 516.9 L84.8 517.1 L87.3 517.2 L89.7 516.1 L92.2 517.3 L94.6 515.9 L97.1 516.5 L99.5 516.1 L102.0 515.2 L104.4 516.1 L106.8 514.8 L109.3 515.2 L111.6 513.7 L113.8 511.9 L116.1 510.2 L118.4 507.9 L120.7 506.8 L122.9 504.4 L125.2 504.2 L127.5 501.8 L129.8 501.5 L132.1 501.2 L134.3 499.9 L136.6 498.6 L139.0 497.7 L141.5 496.8 L143.9 497.1 L146.4 495.6 L148.7 495.0 L151.1 496.0 L153.4 496.2 L155.7 495.1 L158.1 495.6 L160.4 495.5 L162.8 495.7 L165.1 496.3 L167.4 496.2 L169.8 496.6 L172.1 497.4 L174.5 497.7 L176.8 496.9 L179.2 498.0 L181.5 497.6 L183.8 497.0 L186.2 497.1 L188.5 498.1 L190.9 498.4 L193.2 498.0 L195.6 498.5 L197.9 498.8 L200.2 498.7 L202.6 497.8 L204.9 498.2 L207.3 498.6 L209.6 499.0 L212.0 497.8 L214.3 498.5 L216.6 498.6 L219.0 497.9 L221.3 497.8 L223.7 498.3 L226.0 498.5 L228.4 498.2 L230.8 498.7 L233.2 497.2 L235.7 497.6 L238.1 497.4 L238.0 497.6 L240.2 498.4 L242.4 498.1 L244.6 497.7 L246.8 497.3 L249.0 497.9 L251.2 497.3 L253.4 498.0 L255.6 498.0 L257.8 497.6 L260.0 497.8 L262.2 498.2 L264.4 497.5 L266.7 497.6 L268.9 498.1 L271.1 497.1 L273.3 496.9 L275.6 497.5 L277.8 497.2 L280.0 497.2 L282.5 497.5 L285.0 496.2 L287.5 496.1 L290.0 496.0 L292.5 495.5 L295.0 496.3 L297.5 496.3 L300.0 496.8 L302.2 496.8 L304.4 497.4 L306.7 496.3 L308.9 497.9 L311.1 497.5 L313.3 497.8 L315.6 497.4 L317.8 497.5 L320.0 497.5 L322.2 497.2 L324.4 497.1 L326.7 496.7 L328.9 496.7 L331.1 496.6 L333.3 496.6 L335.6 497.4 L337.8 497.1 L340.0 496.5 L342.2 496.7 L344.4 495.7 L346.7 496.0 L348.9 496.4 L351.1 496.6 L353.3 496.2 L355.6 496.5 L357.8 496.9 L360.0 496.2 L362.2 495.8 L364.4 496.0 L366.7 496.5 L368.9 495.8 L371.1 496.4 L373.3 495.9 L375.6 495.3 L377.8 496.0 L380.0 496.0 L382.3 495.2 L384.7 496.3 L387.0 496.3 L389.3 495.7 L391.7 496.2 L394.0 495.5" fill="none" stroke="#0000ff" stroke-width="1.80" stroke-linejoin="round" stroke-dasharray="7 3.7"/>
<path d="M82.3 516.9 L84.6 516.6 L86.8 517.5 L89.0 517.3 L91.2 516.1 L93.4 517.3 L95.6 516.5 L98.0 516.5 L100.3 515.1 L102.6 516.5 L105.0 515.0 L107.3 515.2 L109.7 513.6 L112.0 512.7 L114.4 511.8 L116.7 509.8 L119.0 509.3 L121.4 508.1 L123.7 506.8 L126.1 504.6 L128.4 503.6 L130.8 501.5 L133.1 499.9 L135.4 498.4 L137.7 495.5 L140.0 494.2 L142.9 492.3 L145.8 490.8 L148.7 489.2 L151.6 486.5 L154.5 486.2 L157.3 483.4 L160.2 481.9 L163.1 479.3 L166.0 478.3 L168.9 477.3 L171.8 475.7 L174.7 474.7 L177.6 473.4 L180.5 472.6 L183.4 472.5 L186.3 471.5 L189.2 469.8 L192.0 469.6 L194.9 469.3 L197.8 468.7 L200.7 468.2 L203.6 467.0 L206.5 467.9 L209.4 466.7 L212.3 466.1 L215.2 466.4 L218.1 467.2 L221.0 467.3 L223.9 465.7 L226.7 465.7 L229.6 465.5 L232.5 465.6 L235.4 465.3 L238.0 463.7 L240.6 463.6 L243.1 463.3 L245.7 462.5 L248.0 463.4 L250.3 461.5 L252.7 461.1 L255.0 462.6 L257.3 461.7 L259.6 461.7 L261.9 462.1 L264.2 463.4 L266.5 462.3 L268.9 463.3 L271.2 464.0 L273.5 463.0 L275.8 461.9 L278.1 463.6 L280.4 462.5 L283.0 462.0 L285.6 460.3 L288.1 460.6 L290.7 462.2 L293.3 463.0 L295.9 463.3 L298.4 463.6 L301.0 463.1 L303.6 462.5 L306.0 463.9 L308.4 462.0 L310.8 464.4 L313.2 463.7 L315.8 464.2 L318.4 463.6 L320.9 464.4 L323.8 463.1 L326.7 461.4 L329.3 460.4 L331.9 460.4 L334.4 459.4 L337.0 460.5 L339.6 460.8 L342.1 461.4 L344.7 460.3 L347.3 460.9 L349.9 461.0 L352.4 460.8 L355.0 462.0 L357.6 461.7 L360.1 462.6 L362.7 462.1 L365.3 461.4 L368.2 462.4 L371.1 463.3 L373.6 461.4 L376.2 461.4 L378.8 459.8 L381.4 459.2 L383.9 460.7 L386.5 459.4 L389.4 459.7 L392.3 461.4" fill="none" stroke="#008b00" stroke-width="2.00" stroke-linejoin="round" stroke-dasharray="7 3.7"/>
<path d="M82.3 517.2 L83.5 513.3 L85.1 508.5 L87.3 499.4 L89.6 490.4 L91.8 482.1 L94.1 473.8 L96.4 466.7 L98.6 460.2 L100.9 454.2 L103.2 448.9 L104.7 446.0 L106.2 443.6 L105.2 444.6 L109.2 439.6 L113.2 436.6 L116.2 436.4 L119.2 435.4 L121.2 433.8 L123.8 432.6 L126.3 432.6 L130.3 430.1 L134.3 427.1 L138.4 426.5 L142.4 423.5 L145.4 420.9 L149.4 418.5 L151.9 416.4 L154.4 415.5 L157.0 413.9 L159.5 412.0 L161.5 409.4 L163.5 405.0 L167.5 404.8 L169.5 402.0 L172.6 399.4 L176.6 395.3 L179.6 394.3 L182.6 391.3 L186.6 387.9 L190.7 385.1 L193.7 383.3 L196.7 382.9 L198.7 380.6 L200.7 381.9 L203.7 380.8 L206.8 379.2 L208.8 380.2 L211.8 379.6 L213.8 376.2 L215.8 373.6 L218.8 373.8 L221.3 373.4 L223.9 374.6 L226.9 373.2 L229.9 372.8 L232.9 371.2 L236.9 370.2 L240.0 368.8 L238.0 368.4 L240.9 370.0 L243.8 370.7 L246.7 369.6 L249.6 367.6 L252.1 366.4 L254.7 367.2 L257.3 366.4 L259.9 366.7 L262.4 367.2 L265.0 367.2 L267.6 367.4 L270.1 366.8 L272.7 365.3 L275.3 364.5 L277.9 364.6 L280.4 363.4 L283.3 363.5 L286.2 362.6 L289.1 363.2 L292.0 362.2 L294.6 360.8 L297.1 362.0 L299.7 360.7 L302.3 360.2 L304.9 360.0 L307.4 360.7 L310.0 360.1 L312.6 359.7 L315.1 358.3 L317.7 358.9 L320.3 357.6 L322.9 357.6 L325.4 357.5 L328.0 355.4 L330.6 355.6 L333.1 356.2 L335.7 354.8 L338.3 354.9 L340.9 354.6 L343.4 353.4 L346.0 353.7 L348.6 352.9 L351.1 352.8 L353.7 353.7 L356.3 353.5 L358.9 353.1 L361.4 352.6 L364.0 353.1 L366.6 353.2 L369.1 352.6 L371.7 352.2 L374.3 352.7 L376.9 351.8 L379.7 350.3 L382.6 349.9 L385.5 350.2 L388.4 349.1 L392.3 349.9" fill="none" stroke="#ffa500" stroke-width="2.00" stroke-linejoin="round"/>
</g>
<path d="M155.2 461.1 L184.4 502.1" stroke="#0000ff" stroke-width="1.8"/>
<g stroke="#000" stroke-width="1.20" fill="none"><path d="M102.68 296.60 v7.20 M102.68 517.50 v-7.20"/><path d="M123.62 296.60 v7.20 M123.62 517.50 v-7.20"/><path d="M144.55 296.60 v7.20 M144.55 517.50 v-7.20"/><path d="M165.48 296.60 v7.20 M165.48 517.50 v-7.20"/><path d="M186.42 296.60 v14.40 M186.42 517.50 v-14.40"/><path d="M207.35 296.60 v7.20 M207.35 517.50 v-7.20"/><path d="M228.28 296.60 v7.20 M228.28 517.50 v-7.20"/><path d="M249.22 296.60 v7.20 M249.22 517.50 v-7.20"/><path d="M270.15 296.60 v7.20 M270.15 517.50 v-7.20"/><path d="M291.08 296.60 v14.40 M291.08 517.50 v-14.40"/><path d="M312.02 296.60 v7.20 M312.02 517.50 v-7.20"/><path d="M332.95 296.60 v7.20 M332.95 517.50 v-7.20"/><path d="M353.88 296.60 v7.20 M353.88 517.50 v-7.20"/><path d="M374.82 296.60 v7.20 M374.82 517.50 v-7.20"/><path d="M82.00 305.44 h6.90 M396.00 305.44 h-6.90"/><path d="M82.00 314.27 h6.90 M396.00 314.27 h-6.90"/><path d="M82.00 323.11 h6.90 M396.00 323.11 h-6.90"/><path d="M82.00 331.94 h6.90 M396.00 331.94 h-6.90"/><path d="M82.00 340.78 h14.10 M396.00 340.78 h-14.10"/><path d="M82.00 349.62 h6.90 M396.00 349.62 h-6.90"/><path d="M82.00 358.45 h6.90 M396.00 358.45 h-6.90"/><path d="M82.00 367.29 h6.90 M396.00 367.29 h-6.90"/><path d="M82.00 376.12 h6.90 M396.00 376.12 h-6.90"/><path d="M82.00 384.96 h14.10 M396.00 384.96 h-14.10"/><path d="M82.00 393.80 h6.90 M396.00 393.80 h-6.90"/><path d="M82.00 402.63 h6.90 M396.00 402.63 h-6.90"/><path d="M82.00 411.47 h6.90 M396.00 411.47 h-6.90"/><path d="M82.00 420.30 h6.90 M396.00 420.30 h-6.90"/><path d="M82.00 429.14 h14.10 M396.00 429.14 h-14.10"/><path d="M82.00 437.98 h6.90 M396.00 437.98 h-6.90"/><path d="M82.00 446.81 h6.90 M396.00 446.81 h-6.90"/><path d="M82.00 455.65 h6.90 M396.00 455.65 h-6.90"/><path d="M82.00 464.48 h6.90 M396.00 464.48 h-6.90"/><path d="M82.00 473.32 h14.10 M396.00 473.32 h-14.10"/><path d="M82.00 482.16 h6.90 M396.00 482.16 h-6.90"/><path d="M82.00 490.99 h6.90 M396.00 490.99 h-6.90"/><path d="M82.00 499.83 h6.90 M396.00 499.83 h-6.90"/><path d="M82.00 508.66 h6.90 M396.00 508.66 h-6.90"/></g>
<rect x="82.00" y="296.60" width="314.00" height="220.90" fill="none" stroke="#000" stroke-width="2.30"/>
<text x="75.50" y="524.60" text-anchor="end" font-size="20.6">0</text>
<text x="75.50" y="480.42" text-anchor="end" font-size="20.6">0.5</text>
<text x="75.50" y="436.24" text-anchor="end" font-size="20.6">1.0</text>
<text x="75.50" y="392.06" text-anchor="end" font-size="20.6">1.5</text>
<text x="75.50" y="347.88" text-anchor="end" font-size="20.6">2.0</text>
<text x="75.50" y="303.70" text-anchor="end" font-size="20.6">2.5</text>
<text x="82.00" y="538.70" text-anchor="middle" font-size="20.6">0</text>
<text x="187.17" y="547.00" text-anchor="middle" font-size="20.6">1×10<tspan font-size="14.6" dy="-11.1">5</tspan></text>
<text x="291.83" y="547.00" text-anchor="middle" font-size="20.6">2×10<tspan font-size="14.6" dy="-11.1">5</tspan></text>
<text x="396.50" y="547.00" text-anchor="middle" font-size="20.6">3×10<tspan font-size="14.6" dy="-11.1">5</tspan></text>
<text x="100.3" y="326.0" font-size="16.2">C3</text>
<text x="213.90" y="351.60" fill="#ffa500" font-size="18.3">H<tspan font-size="13.5" dy="7.4">2</tspan><tspan dy="-7.4">O</tspan></text>
<text x="148.40" y="458.00" fill="#0000ff" font-size="18.3">H</text>
<text x="100.20" y="493.80" fill="#008b00" font-size="18.3">H<tspan font-size="13.5" dy="7.4">2</tspan></text>
<text x="195.30" y="496.50" fill="#0000ff" font-size="18.3">O</text>
<text x="329.50" y="456.60" fill="#008b00" font-size="18.3">OH</text>
<g clip-path="url(#cd)">
<path d="M490.3 517.1 L493.7 517.1 L497.1 516.9 L500.4 516.6 L503.8 516.9 L507.2 516.6 L510.5 516.6 L513.9 516.6 L517.3 516.6 L520.7 515.8 L524.1 515.2 L527.5 514.0 L530.9 513.2 L534.8 513.2 L538.8 512.9 L542.7 512.3 L546.6 511.9 L550.5 511.6 L554.4 511.7 L558.3 511.7 L562.2 512.3 L566.1 512.3 L570.0 512.5 L573.9 512.9 L577.8 512.8 L581.7 513.3 L585.6 513.2 L589.5 513.2 L592.6 513.3 L595.7 513.0 L598.9 512.9 L602.0 513.4 L605.1 513.2 L608.4 513.3 L611.6 513.4 L614.9 513.3 L618.1 513.3 L621.4 513.3 L624.6 513.2 L627.9 513.4 L631.1 512.9 L634.4 513.0 L637.7 512.9 L640.9 513.1 L644.2 512.8 L647.2 513.1 L650.2 512.7 L653.3 512.6 L656.3 512.7 L659.4 512.7 L662.4 513.0 L665.5 512.7 L668.5 512.9 L671.6 512.7 L674.6 512.8 L677.7 512.6 L680.7 512.8 L683.7 512.8 L686.8 513.0 L689.8 513.0 L692.9 512.7 L695.9 512.5 L699.0 513.0 L702.0 513.0 L705.1 512.7 L708.1 512.7 L711.1 513.0 L714.2 512.5 L717.2 512.5 L720.3 512.8 L723.3 512.8 L726.4 512.8 L729.4 512.9 L732.5 512.7 L735.5 512.6 L738.6 512.5 L741.6 512.5 L744.6 512.5 L747.7 512.6 L750.7 512.8 L753.8 512.7 L756.8 512.6 L759.9 512.5 L762.9 512.7 L766.0 512.5 L769.0 512.8 L772.0 512.7 L775.1 512.7 L778.1 512.5 L781.2 512.6 L784.2 512.7 L787.3 512.8 L790.3 512.5 L793.4 512.4 L796.4 512.6 L799.5 512.3 L802.5 512.5" fill="none" stroke="#0000ff" stroke-width="1.80" stroke-linejoin="round" stroke-dasharray="7 3.7"/>
<path d="M490.3 517.1 L495.8 514.2 L499.7 513.0 L503.6 512.3 L506.9 511.8 L510.1 511.5 L513.4 511.3 L516.8 511.1 L520.2 510.6 L523.6 510.4 L527.0 509.9 L530.2 509.5 L533.3 509.5 L536.4 509.5 L539.5 509.1 L542.7 508.9 L546.6 509.2 L550.5 509.1 L554.4 508.9 L558.3 509.1 L562.2 509.2 L566.1 509.7 L570.0 510.2 L573.9 510.3 L577.8 510.9 L581.7 510.9 L585.6 511.5 L589.5 511.7 L592.6 512.0 L595.7 512.1 L598.9 512.2 L602.0 512.0 L605.1 512.3 L608.4 512.1 L611.6 512.3 L614.9 512.8 L618.1 512.5 L621.4 512.6 L624.6 512.8 L627.9 512.7 L631.1 512.7 L634.4 512.8 L637.7 513.0 L640.9 513.0 L644.2 513.2 L647.3 513.2 L650.5 513.6 L653.7 513.3 L656.8 513.8 L660.0 513.7 L663.0 513.8 L666.0 513.7 L669.0 513.7 L672.0 513.8 L675.0 513.7 L678.0 513.5 L681.0 513.5 L684.0 513.5 L687.0 513.6 L690.0 513.8 L693.0 513.6 L696.0 513.4 L699.0 513.6 L702.0 513.7 L705.0 513.5 L708.0 513.6 L711.0 513.3 L714.0 513.3 L717.0 513.6 L720.0 513.5 L723.1 513.3 L726.1 513.4 L729.2 513.4 L732.2 513.3 L735.3 513.2 L738.3 513.1 L741.4 513.6 L744.4 513.4 L747.5 513.6 L750.6 513.3 L753.6 513.5 L756.7 513.5 L759.7 513.3 L762.8 513.3 L765.8 513.2 L768.9 513.1 L771.9 513.1 L775.0 513.3 L778.1 513.0 L781.1 513.3 L784.2 513.1 L787.2 513.1 L790.3 513.2 L793.3 513.1 L796.4 512.9 L799.4 512.9 L802.5 513.0" fill="none" stroke="#008b00" stroke-width="2.30" stroke-linejoin="round"/>
<path d="M490.3 517.1 L492.6 516.3 L494.8 516.5 L497.0 516.9 L499.2 517.4 L501.4 516.5 L503.6 516.4 L505.8 516.6 L508.0 517.4 L510.3 516.4 L512.5 517.3 L514.7 517.2 L516.9 516.3 L519.1 517.0 L521.3 516.8 L523.5 516.7 L525.7 517.6 L528.0 516.2 L530.2 516.0 L532.4 517.5 L534.6 516.6 L536.8 516.7 L539.2 516.0 L541.7 515.9 L544.1 515.7 L546.6 515.6 L548.9 516.3 L551.2 515.0 L553.4 515.0 L555.7 515.5 L558.0 515.4 L560.3 516.0 L562.6 515.8 L564.9 515.0 L567.2 514.7 L569.5 515.7 L571.8 515.9 L574.1 514.3 L576.4 515.4 L578.7 515.5 L581.0 515.1 L583.3 514.4 L585.6 514.8 L587.9 515.2 L590.2 515.1 L592.5 514.2 L594.8 514.9 L597.1 514.2 L599.4 513.9 L601.7 514.3 L604.0 514.3 L606.3 514.3 L608.6 514.7 L610.9 515.0 L613.2 515.1 L615.5 515.1 L617.7 515.1 L620.0 514.7 L622.3 513.9 L624.6 514.2 L627.1 513.6 L629.5 514.3 L632.0 514.1 L634.4 514.2 L636.8 513.2 L639.3 513.3 L641.7 514.4 L644.2 513.6 L647.1 512.8 L650.0 511.6 L652.3 511.9 L654.5 510.9 L656.8 511.4 L659.1 512.1 L661.4 511.7 L663.6 512.2 L665.9 510.9 L668.2 511.3 L670.5 511.8 L672.7 511.2 L675.0 511.8 L677.3 511.4 L679.5 510.6 L681.8 510.6 L684.1 512.0 L686.4 510.6 L688.6 510.6 L690.9 510.8 L693.2 511.4 L695.5 511.6 L697.7 511.0 L700.0 511.0 L702.2 511.0 L704.4 511.4 L706.7 510.6 L708.9 510.7 L711.1 511.1 L713.3 511.1 L715.6 510.1 L717.8 510.2 L720.0 510.2 L722.2 511.1 L724.4 511.0 L726.7 511.4 L728.9 511.1 L731.1 510.2 L733.3 511.0 L735.6 511.4 L737.8 510.3 L740.0 509.8 L742.2 510.3 L744.4 510.1 L746.7 509.9 L748.9 509.7 L751.1 509.8 L753.3 511.0 L755.6 509.6 L757.8 510.5 L760.0 510.3 L762.2 509.8 L764.5 509.7 L766.7 510.7 L768.9 509.8 L771.2 509.5 L773.4 509.9 L775.7 510.2 L777.9 509.9 L780.1 510.4 L782.4 509.6 L784.6 509.8 L786.8 510.0 L789.1 509.6 L791.3 509.9 L793.6 509.5 L795.8 508.9 L798.0 508.8 L800.3 509.8 L802.5 509.3" fill="none" stroke="#ffa500" stroke-width="2.40" stroke-linejoin="round" stroke-dasharray="7 3.7"/>
<path d="M490.3 517.1 L566.1 516.7 L585.6 515.2 L605.1 512.3 L624.6 509.3 L640.3 507.0 L645.0 506.9 L800.1 489.6" fill="none" stroke="#0000ff" stroke-width="1.90" stroke-linejoin="round" stroke-dasharray="9.5 3.5 2 3.5" stroke-dashoffset="2.1"/>
<path d="M490.8 518.7 L494.3 518.6 L497.7 518.5 L501.2 518.5 L504.7 517.9 L508.1 517.9 L511.5 516.6 L514.8 515.4 L518.2 513.7 L521.5 511.3 L524.9 508.1 L528.2 505.6 L531.6 502.7 L534.9 499.7 L538.3 496.6 L541.7 494.6 L545.0 492.9 L548.4 490.5 L551.7 488.9 L555.1 487.1 L558.4 485.5 L561.8 484.2 L565.1 482.3 L568.5 480.5 L571.5 478.8 L574.5 477.5 L577.5 476.0 L580.6 474.8 L584.6 473.6 L588.6 472.4 L592.6 470.1 L596.7 468.4 L600.7 466.5 L604.7 464.4 L608.7 462.6 L612.7 460.4 L616.8 458.1 L620.8 455.9 L624.8 454.6 L628.8 452.7 L632.9 451.3 L636.9 449.3 L640.9 448.0 L644.9 446.7 L645.0 446.1 L650.0 444.4 L655.1 442.4 L660.1 440.4 L665.1 438.8 L670.2 437.4 L675.2 436.0 L680.2 435.2 L685.2 434.0 L690.3 432.0 L695.3 430.4 L700.3 429.0 L705.4 427.9 L710.4 426.9 L715.4 425.3 L720.5 424.3 L725.5 423.3 L730.5 422.9 L735.5 421.9 L740.6 420.9 L745.6 420.3 L750.6 419.5 L755.7 418.9 L760.7 417.9 L765.7 416.7 L770.8 415.9 L775.8 414.7 L780.8 413.5 L785.8 412.3 L789.9 410.8 L793.9 409.2 L796.9 409.7 L799.9 409.8" fill="none" stroke="#008b00" stroke-width="2.00" stroke-linejoin="round" stroke-dasharray="7 3.7"/>
<path d="M490.8 518.7 L492.0 515.1 L494.0 510.7 L496.0 506.6 L499.1 501.6 L502.1 498.2 L505.1 495.6 L508.1 493.0 L511.1 490.9 L514.2 488.5 L519.2 483.5 L524.2 479.5 L527.7 477.0 L531.3 474.4 L534.8 472.5 L538.3 470.4 L543.3 468.0 L548.4 466.0 L553.4 463.2 L558.4 460.4 L563.5 457.3 L568.5 454.3 L573.5 451.9 L578.5 449.3 L583.6 446.7 L588.6 444.3 L593.6 441.2 L598.7 439.2 L603.7 437.4 L608.7 435.8 L613.8 434.2 L618.8 432.2 L623.8 430.2 L628.8 428.2 L633.9 426.2 L638.9 424.5 L643.9 423.1 L645.0 423.9 L650.0 421.5 L655.1 419.3 L660.1 417.7 L665.1 415.9 L670.2 413.7 L675.2 411.9 L680.2 409.8 L685.2 408.2 L690.3 407.8 L695.3 407.2 L700.3 405.8 L705.4 404.6 L710.4 403.4 L715.4 402.2 L720.5 401.4 L725.5 400.2 L730.5 398.8 L735.5 397.2 L740.6 395.4 L745.6 393.7 L750.6 392.3 L755.7 391.1 L760.7 390.5 L765.7 390.1 L770.8 389.5 L775.8 388.5 L780.8 387.1 L785.8 385.7 L790.9 384.9 L795.9 384.1 L798.9 383.4 L801.9 382.1" fill="none" stroke="#ffa500" stroke-width="2.00" stroke-linejoin="round"/>
</g>
<g stroke="#000" stroke-width="1.20" fill="none"><path d="M511.68 296.60 v7.20 M511.68 517.50 v-7.20"/><path d="M532.62 296.60 v7.20 M532.62 517.50 v-7.20"/><path d="M553.55 296.60 v7.20 M553.55 517.50 v-7.20"/><path d="M574.48 296.60 v7.20 M574.48 517.50 v-7.20"/><path d="M595.42 296.60 v14.40 M595.42 517.50 v-14.40"/><path d="M616.35 296.60 v7.20 M616.35 517.50 v-7.20"/><path d="M637.28 296.60 v7.20 M637.28 517.50 v-7.20"/><path d="M658.22 296.60 v7.20 M658.22 517.50 v-7.20"/><path d="M679.15 296.60 v7.20 M679.15 517.50 v-7.20"/><path d="M700.08 296.60 v14.40 M700.08 517.50 v-14.40"/><path d="M721.02 296.60 v7.20 M721.02 517.50 v-7.20"/><path d="M741.95 296.60 v7.20 M741.95 517.50 v-7.20"/><path d="M762.88 296.60 v7.20 M762.88 517.50 v-7.20"/><path d="M783.82 296.60 v7.20 M783.82 517.50 v-7.20"/><path d="M491.00 307.65 h6.90 M805.00 307.65 h-6.90"/><path d="M491.00 318.69 h6.90 M805.00 318.69 h-6.90"/><path d="M491.00 329.74 h6.90 M805.00 329.74 h-6.90"/><path d="M491.00 340.78 h6.90 M805.00 340.78 h-6.90"/><path d="M491.00 351.83 h14.10 M805.00 351.83 h-14.10"/><path d="M491.00 362.87 h6.90 M805.00 362.87 h-6.90"/><path d="M491.00 373.92 h6.90 M805.00 373.92 h-6.90"/><path d="M491.00 384.96 h6.90 M805.00 384.96 h-6.90"/><path d="M491.00 396.00 h6.90 M805.00 396.00 h-6.90"/><path d="M491.00 407.05 h14.10 M805.00 407.05 h-14.10"/><path d="M491.00 418.10 h6.90 M805.00 418.10 h-6.90"/><path d="M491.00 429.14 h6.90 M805.00 429.14 h-6.90"/><path d="M491.00 440.19 h6.90 M805.00 440.19 h-6.90"/><path d="M491.00 451.23 h6.90 M805.00 451.23 h-6.90"/><path d="M491.00 462.27 h14.10 M805.00 462.27 h-14.10"/><path d="M491.00 473.32 h6.90 M805.00 473.32 h-6.90"/><path d="M491.00 484.37 h6.90 M805.00 484.37 h-6.90"/><path d="M491.00 495.41 h6.90 M805.00 495.41 h-6.90"/><path d="M491.00 506.45 h6.90 M805.00 506.45 h-6.90"/></g>
<rect x="491.00" y="296.60" width="314.00" height="220.90" fill="none" stroke="#000" stroke-width="2.30"/>
<text x="484.50" y="524.60" text-anchor="end" font-size="20.6">0</text>
<text x="484.50" y="469.38" text-anchor="end" font-size="20.6">2</text>
<text x="484.50" y="414.15" text-anchor="end" font-size="20.6">4</text>
<text x="484.50" y="358.93" text-anchor="end" font-size="20.6">6</text>
<text x="484.50" y="303.70" text-anchor="end" font-size="20.6">8</text>
<text x="491.00" y="538.70" text-anchor="middle" font-size="20.6">0</text>
<text x="596.17" y="547.00" text-anchor="middle" font-size="20.6">1×10<tspan font-size="14.6" dy="-11.1">5</tspan></text>
<text x="700.83" y="547.00" text-anchor="middle" font-size="20.6">2×10<tspan font-size="14.6" dy="-11.1">5</tspan></text>
<text x="805.50" y="547.00" text-anchor="middle" font-size="20.6">3×10<tspan font-size="14.6" dy="-11.1">5</tspan></text>
<text x="511.3" y="328.8" font-size="16.0">D3</text>
<text x="578.50" y="420.90" fill="#ffa500" font-size="18.3">H<tspan font-size="13.5" dy="7.4">2</tspan><tspan dy="-7.4">O</tspan></text>
<text x="662.00" y="459.10" fill="#008b00" font-size="18.3">OH</text>
<text x="761.50" y="479.00" fill="#0000ff" font-size="18.3">O<tspan font-size="13.5" dy="7.4">3</tspan></text>
<text transform="translate(20.4 273.5) rotate(-90)" text-anchor="middle" font-size="25.5">surface abundance (ML)</text>
<text x="442.3" y="587.2" text-anchor="middle" font-size="25.7">time (yr)</text>
</svg>
</body></html>
